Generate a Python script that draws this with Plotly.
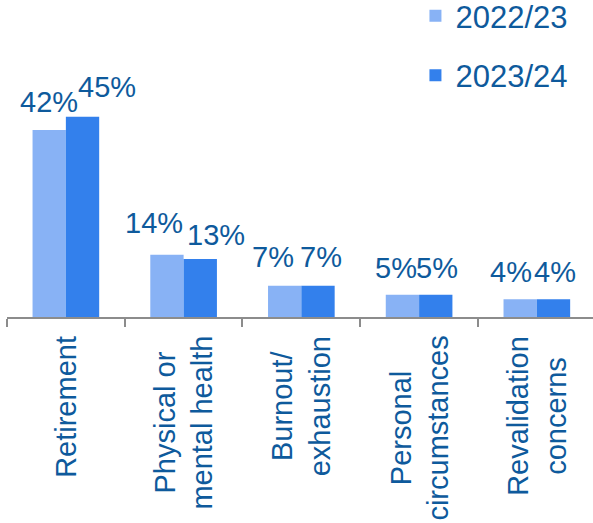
import plotly.graph_objects as go

# Reasons for leaving, share of responses per year
categories = ["Retirement", "Physical or<br>mental health", "Burnout/<br>exhaustion",
              "Personal<br>circumstances", "Revalidation<br>concerns"]
series_names = ["2022/23", "2023/24"]
values_2022 = [42, 14, 7, 5, 4]
values_2023 = [45, 13, 7, 5, 4]

# label nudges (px) so neighbouring value labels do not collide
label_dx_2022 = [0, -13, -12, -6, -9]
label_dx_2023 = [24, 16, 3, 1, 1]
label_gap_2022 = [18, 22, 19, 17, 17]
label_gap_2023 = [20, 14, 19, 17, 17]

LIGHT = "#88B2F5"
DARK = "#3380EC"
TEXT = "#0E5A9C"
AXIS = "#8C8C8C"
FONT = "Arial, Liberation Sans, sans-serif"
BARGAP = 0.434

fig = go.Figure()
fig.add_trace(go.Bar(x=categories, y=values_2022, name=series_names[0],
                     marker=dict(color=LIGHT, line_width=0), legendgroup="a"))
fig.add_trace(go.Bar(x=categories, y=values_2023, name=series_names[1],
                     marker=dict(color=DARK, line_width=0), legendgroup="b"))

half = (1 - BARGAP) / 4  # offset from category centre to each bar centre
annotations = []
for i in range(len(categories)):
    for v, sgn, dx, gap in ((values_2022[i], -1, label_dx_2022[i], label_gap_2022[i]),
                            (values_2023[i], 1, label_dx_2023[i], label_gap_2023[i])):
        annotations.append(dict(
            x=i + sgn * half, y=v, xref="x", yref="y",
            text=f"{v}%", showarrow=False, xanchor="center", yanchor="bottom",
            xshift=dx, yshift=gap - 8,
            font=dict(family=FONT, size=29, color=TEXT)))
    # rotated category label, lines centred in the block
    annotations.append(dict(
        x=i, y=0, xref="x", yref="paper", text=categories[i], showarrow=False,
        textangle=-90, align="center", xanchor="center", yanchor="top",
        yshift=-17, font=dict(family=FONT, size=29, color=TEXT)))

fig.update_layout(
    width=593, height=523,
    margin=dict(l=7, r=0, t=0, b=206, autoexpand=False),
    paper_bgcolor="white", plot_bgcolor="white",
    barmode="group", bargap=BARGAP, bargroupgap=0,
    showlegend=True,
    legend=dict(x=0.697, y=1.034, xanchor="left", yanchor="top",
                traceorder="grouped", tracegroupgap=16,
                font=dict(family=FONT, size=31, color=TEXT),
                bgcolor="rgba(0,0,0,0)"),
    annotations=annotations,
    xaxis=dict(range=[-0.5, 4.477], showticklabels=False, showgrid=False,
               showline=True, linecolor=AXIS, linewidth=2,
               ticks="outside", tickson="boundaries", ticklen=8,
               tickcolor=AXIS, tickwidth=2, zeroline=False),
    yaxis=dict(range=[0, 71.2], visible=False, showgrid=False, zeroline=False),
)

fig.write_html("out.html")
